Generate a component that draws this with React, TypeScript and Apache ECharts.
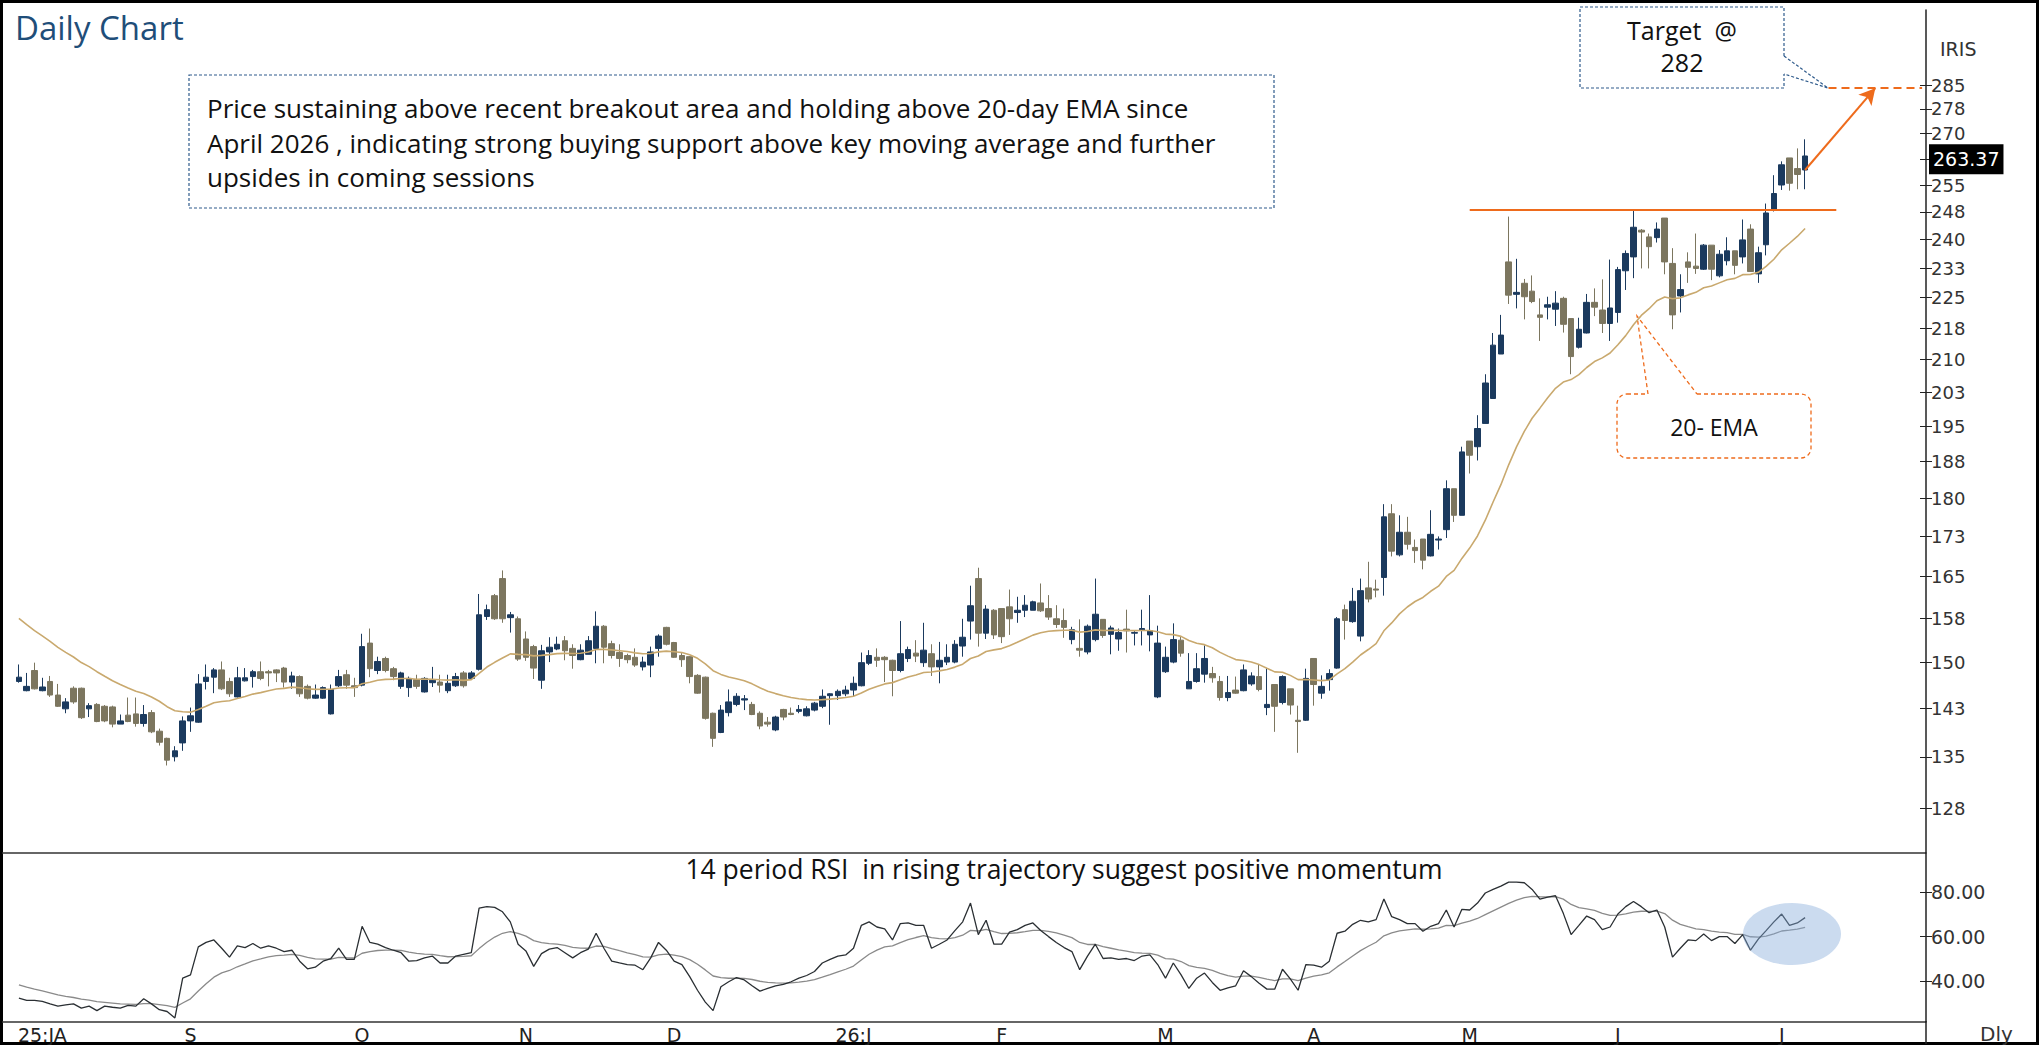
import React, { useEffect, useRef } from "react";
import * as echarts from "echarts";

// ---------- DATA ----------
const monthLabels = ["25:JA", "S", "O", "N", "D", "26:J", "F", "M", "A", "M", "J", "J"];
const monthLabelIdx = [3, 22, 44, 65, 84, 107, 126, 147, 166, 186, 205, 226];
const totalSlots = 245;

const priceTicks = [127.5, 135, 142.5, 150, 157.5, 165, 172.5, 180, 187.5, 195, 202.5, 210, 217.5, 225, 232.5, 240, 247.5, 255, 262.5, 270, 277.5, 285];
const priceLabelTicks = priceTicks.filter((t) => t !== 262.5);
const rsiTicks = [40, 60, 80];

// candles: [open, high, low, close]
const ohlcJulAug = [
  [146.8, 149.6, 146.6, 147.5], [145.3, 148.2, 145.2, 146.0], [148.6, 149.9, 145.5, 145.6], [145.3, 147.4, 145.2, 145.9],
  [146.8, 147.7, 144.3, 144.6], [144.6, 146.4, 142.7, 142.8], [142.4, 144.1, 141.7, 143.5], [145.7, 146.0, 143.2, 143.5],
  [145.7, 145.8, 140.8, 141.0], [142.4, 143.3, 141.1, 142.9], [143.1, 143.3, 140.3, 140.4], [142.8, 143.0, 140.3, 140.5],
  [142.7, 142.9, 139.5, 140.0], [140.0, 141.5, 140.0, 140.5], [141.4, 144.2, 140.3, 140.4], [141.6, 144.2, 139.6, 140.1],
  [140.1, 143.0, 139.6, 141.5], [141.8, 142.2, 138.6, 138.8], [138.9, 139.3, 136.7, 137.2], [137.8, 137.9, 133.7, 134.5],
  [135.0, 136.6, 134.3, 135.9], [137.1, 141.2, 135.9, 140.5], [140.5, 142.6, 138.8, 141.3],
];
const ohlcSep = [
  [140.3, 148.0, 140.2, 146.4], [146.8, 149.6, 145.5, 147.5], [147.5, 149.0, 144.9, 148.7], [148.7, 150.1, 145.4, 145.6],
  [146.8, 147.4, 144.3, 144.8], [144.3, 149.2, 144.2, 147.4], [146.9, 149.0, 146.8, 147.4], [147.6, 148.7, 145.8, 148.4],
  [148.4, 150.1, 147.0, 147.3], [148.4, 148.7, 146.0, 148.2], [148.7, 148.8, 146.7, 148.2], [149.0, 149.2, 145.8, 146.7],
  [146.7, 148.4, 145.6, 147.7], [147.6, 147.8, 144.3, 144.8], [146.0, 146.3, 143.9, 144.1], [144.1, 146.3, 144.0, 144.6],
  [144.1, 146.0, 144.0, 145.8], [141.6, 146.3, 141.5, 145.5], [146.1, 148.7, 145.9, 147.6], [147.9, 148.7, 145.6, 146.2],
  [146.1, 147.4, 144.3, 145.8],
];
const ohlcOct = [
  [146.2, 154.8, 146.0, 152.6], [153.2, 155.7, 147.5, 148.9], [148.6, 150.9, 148.0, 150.1], [150.6, 150.9, 148.3, 148.6],
  [148.9, 149.2, 147.0, 147.6], [146.0, 148.4, 145.6, 148.2], [145.8, 147.6, 144.3, 147.3], [147.1, 147.9, 145.6, 146.0],
  [145.1, 147.5, 145.0, 147.3], [146.6, 149.2, 145.9, 147.0], [146.7, 147.9, 145.0, 146.2], [145.3, 147.9, 144.9, 146.5],
  [146.1, 148.2, 145.9, 147.6], [148.2, 148.5, 145.8, 146.1], [147.3, 148.5, 147.1, 148.2], [148.8, 161.8, 148.6, 158.1],
  [157.8, 159.9, 157.2, 159.0], [161.5, 161.8, 157.2, 157.4], [164.6, 166.1, 156.7, 157.4], [157.6, 158.6, 155.0, 158.1],
  [157.4, 157.8, 150.2, 150.5],
];
const ohlcNov = [
  [153.9, 155.2, 150.2, 150.8], [152.6, 152.9, 147.2, 149.0], [147.0, 152.9, 145.6, 151.9], [151.7, 154.2, 150.0, 152.5],
  [152.2, 154.3, 152.0, 153.0], [153.6, 154.4, 150.3, 151.9], [152.3, 153.0, 148.9, 151.1], [150.4, 153.0, 150.3, 152.0],
  [151.3, 154.4, 151.3, 153.6], [152.3, 158.7, 149.8, 156.1], [156.1, 156.3, 149.8, 152.5], [153.1, 153.6, 150.6, 151.1],
  [151.6, 153.0, 149.2, 150.6], [151.1, 151.4, 149.8, 150.4], [150.8, 152.3, 149.2, 149.5], [149.2, 150.9, 148.6, 150.0],
  [149.5, 152.6, 147.5, 151.7], [152.3, 154.7, 150.9, 154.4], [155.9, 156.0, 152.8, 153.0], [153.3, 153.4, 150.7, 150.8],
];
const ohlcDec = [
  [151.1, 151.5, 149.2, 150.4], [150.9, 151.0, 146.5, 147.6], [147.8, 148.0, 144.8, 144.9], [147.5, 147.6, 140.7, 140.9],
  [141.7, 141.8, 136.5, 137.8], [138.7, 143.0, 138.6, 142.2], [141.8, 145.5, 141.2, 143.5], [143.1, 144.9, 142.8, 144.4],
  [143.8, 144.6, 142.2, 144.0], [143.1, 143.5, 141.4, 141.5], [141.7, 142.0, 139.2, 139.7], [140.3, 141.1, 139.6, 140.0],
  [139.1, 141.3, 138.9, 141.1], [142.3, 142.4, 140.6, 141.1], [141.7, 142.6, 141.4, 141.5], [142.0, 143.0, 141.7, 142.3],
  [141.3, 142.8, 141.2, 142.4], [142.2, 143.5, 142.0, 143.3], [142.8, 145.5, 142.5, 144.4], [144.5, 144.9, 139.9, 144.8],
  [144.5, 145.5, 143.8, 145.2],
];
const ohlcJan = [
  [144.8, 146.1, 144.4, 145.4], [145.4, 147.6, 144.4, 146.5], [146.1, 151.6, 146.0, 149.9], [149.8, 152.0, 149.5, 151.1],
  [150.8, 152.3, 149.2, 150.3], [150.8, 151.0, 146.7, 150.4], [150.3, 150.4, 144.4, 148.6], [148.6, 157.0, 148.3, 151.4],
  [150.6, 152.6, 150.0, 152.1], [151.5, 153.7, 150.0, 151.0], [149.9, 156.7, 149.2, 152.0], [151.4, 153.0, 147.7, 149.2],
  [149.2, 153.4, 146.5, 150.3], [150.0, 153.0, 149.5, 150.8], [150.0, 153.7, 149.8, 153.0], [152.7, 157.4, 150.9, 154.2],
  [157.0, 163.3, 153.8, 159.7], [164.6, 166.6, 152.6, 154.9], [154.9, 159.8, 153.9, 159.1], [158.9, 159.1, 153.9, 154.6],
];
const ohlcFeb = [
  [159.2, 159.2, 153.2, 154.3], [159.5, 162.6, 154.6, 157.4], [158.5, 161.3, 156.7, 158.9], [158.9, 161.6, 157.7, 159.8],
  [158.9, 160.6, 158.9, 160.4], [160.2, 163.7, 158.6, 158.8], [159.2, 161.6, 157.2, 157.7], [157.4, 159.8, 155.8, 156.4],
  [157.1, 159.2, 154.1, 155.9], [153.8, 156.0, 153.0, 155.5], [152.3, 157.3, 150.9, 152.0], [151.7, 156.4, 151.3, 156.1],
  [153.8, 164.6, 153.5, 158.2], [157.3, 157.3, 154.1, 154.5], [154.7, 156.2, 151.3, 155.8], [153.9, 155.7, 151.9, 155.0],
  [155.6, 159.0, 151.6, 155.3], [154.9, 155.3, 152.8, 155.0], [155.4, 159.0, 152.8, 155.7], [154.6, 161.6, 151.8, 155.3],
  [144.3, 156.2, 144.1, 153.2],
];
const ohlcMar = [
  [148.4, 152.6, 148.2, 150.8], [150.0, 156.6, 149.8, 153.8], [153.7, 154.4, 150.9, 151.5], [145.6, 151.5, 145.6, 146.8],
  [146.8, 151.5, 146.6, 148.9], [148.0, 152.8, 146.6, 150.6], [148.1, 149.2, 146.6, 147.4], [146.8, 147.7, 143.7, 144.2],
  [144.2, 147.7, 143.6, 145.0], [145.4, 147.6, 144.8, 144.9], [145.3, 149.6, 145.2, 148.7], [146.4, 148.3, 146.1, 147.7],
  [147.6, 149.6, 145.2, 145.5], [142.6, 149.0, 141.4, 143.1], [146.3, 146.3, 138.8, 142.8], [143.4, 147.8, 143.1, 147.6],
  [145.6, 145.6, 141.5, 143.0], [140.6, 142.9, 135.6, 140.4], [140.6, 148.9, 140.5, 147.3], [150.6, 150.6, 142.9, 146.3],
  [144.9, 147.8, 144.0, 146.0],
];
const ohlcApr = [
  [147.1, 148.8, 145.3, 148.1], [149.0, 157.7, 148.9, 157.4], [159.0, 159.9, 153.8, 157.1], [156.9, 162.9, 156.7, 160.5],
  [154.4, 164.6, 153.5, 162.4], [162.9, 167.7, 160.3, 160.9], [162.7, 164.4, 161.2, 162.5], [164.8, 178.8, 161.5, 176.3],
  [176.9, 178.8, 168.7, 169.7], [169.0, 176.6, 168.7, 173.3], [173.3, 176.3, 170.0, 171.0], [170.4, 171.9, 167.5, 169.8],
  [172.0, 172.0, 166.3, 168.0], [168.8, 177.6, 168.7, 172.9], [171.8, 172.5, 170.0, 172.0], [173.8, 183.6, 172.2, 181.9],
  [181.9, 181.9, 175.3, 176.6], [176.6, 190.6, 176.6, 189.5], [191.8, 191.8, 185.0, 188.8], [190.6, 197.4, 187.7, 194.5],
];
const ohlcMay = [
  [195.6, 206.6, 195.6, 204.6], [201.1, 216.3, 201.1, 213.4], [211.3, 220.7, 211.3, 215.8], [234.1, 246.2, 223.4, 225.6],
  [225.8, 234.9, 222.3, 226.3], [228.6, 229.7, 219.6, 225.2], [226.6, 230.6, 223.6, 224.0], [220.7, 224.8, 214.4, 220.1],
  [222.6, 225.2, 219.6, 223.2], [222.1, 226.6, 218.0, 223.6], [224.8, 225.2, 216.4, 218.4], [219.8, 219.8, 206.6, 210.7],
  [212.9, 220.0, 212.6, 217.2], [216.3, 225.9, 216.2, 223.8], [223.8, 227.3, 220.4, 222.6], [221.9, 229.6, 216.3, 218.6],
  [218.6, 234.7, 214.4, 222.4], [221.3, 232.8, 218.8, 232.1], [231.8, 237.1, 226.9, 236.3], [235.4, 248.0, 229.9, 243.3],
  [242.5, 242.8, 232.4, 242.0],
];
const ohlcJunJul = [
  [240.7, 241.6, 232.4, 238.1], [240.5, 244.6, 239.2, 242.8], [245.8, 245.8, 230.9, 234.1], [233.7, 237.7, 217.2, 220.7],
  [225.4, 230.9, 221.3, 227.0], [234.1, 236.6, 228.7, 232.7], [233.0, 241.6, 231.0, 232.4], [232.2, 238.8, 232.0, 238.5],
  [238.5, 238.5, 229.4, 232.2], [230.5, 237.2, 230.1, 236.1], [234.4, 240.6, 233.2, 237.0], [237.0, 237.0, 230.9, 233.2],
  [235.4, 245.4, 233.7, 239.9], [242.8, 244.1, 231.6, 231.6], [231.0, 238.1, 228.7, 236.5], [238.6, 249.8, 235.8, 247.2],
  [247.9, 257.8, 247.6, 252.6], [255.0, 261.8, 253.6, 260.8], [262.8, 262.8, 253.4, 255.5], [259.7, 265.6, 253.8, 258.0],
  [259.3, 268.3, 253.8, 263.37],
];

// 14-period RSI, one value per candle
const rsiH2025 = [
  32.5, 31.5, 31.5, 31.0, 29.9, 28.9, 29.5, 29.9, 28.0, 28.9,
  26.9, 28.9, 28.4, 28.0, 29.2, 28.9, 32.2, 29.9, 27.3, 26.5,
  23.6, 41.4, 42.9, 55.4, 57.4, 58.5, 54.8, 50.8, 55.9, 55.1,
  56.9, 54.8, 55.9, 54.8, 53.3, 53.9, 49.0, 45.6, 46.3, 49.0,
  50.2, 54.8, 49.8, 49.8, 64.6, 57.4, 56.6, 55.1, 53.9, 52.8,
  49.0, 49.3, 50.5, 51.3, 48.2, 48.2, 51.3, 52.1, 52.8, 72.7,
  73.4, 73.1, 71.1, 66.6, 56.6, 53.6, 46.7, 52.4, 54.4, 55.1,
  52.8, 50.5, 52.8, 54.4, 61.5, 54.8, 49.0, 48.2, 47.5, 47.2,
  45.2, 50.5, 57.4, 53.9, 49.0, 47.5, 42.1, 36.0, 30.7, 26.9,
  37.6, 39.8, 41.7, 40.6, 38.0, 35.6, 36.8, 38.0, 38.6, 39.8,
  41.4, 42.6, 44.4, 48.2, 49.8, 51.3,
];
const rsiH2026 = [
  51.8, 54.8, 65.0, 66.6,
  64.3, 63.5, 58.5, 65.8, 66.1, 65.0, 65.0, 54.8, 56.6, 58.5,
  62.7, 66.6, 75.0, 60.9, 67.3, 56.6, 56.6, 62.0, 63.1, 65.0,
  66.1, 62.7, 60.0, 57.4, 55.1, 53.3, 45.2, 51.3, 56.6, 50.2,
  50.5, 49.8, 50.2, 49.3, 51.3, 51.8, 47.5, 41.4, 48.2, 42.9,
  36.8, 41.4, 43.7, 39.5, 36.0, 37.1, 38.0, 44.7, 42.1, 39.1,
  36.5, 36.5, 45.4, 41.1, 36.0, 47.5, 47.2, 46.3, 49.0, 61.5,
  62.4, 65.5, 67.3, 66.6, 67.6, 76.8, 68.9, 67.6, 65.8, 65.8,
  62.4, 64.6, 65.8, 71.9, 64.3, 72.2, 71.9, 75.0, 79.5, 81.1,
  82.6, 84.4, 84.4, 84.1, 81.1, 76.8, 77.7, 78.3, 70.4, 60.9,
  65.0, 69.2, 67.6, 63.1, 64.3, 70.1, 73.4, 75.7, 73.4, 70.7,
  71.9, 64.3, 50.8, 54.8, 58.5, 58.2, 61.2, 58.2, 60.0, 60.0,
  56.9, 60.9, 53.9, 58.9, 62.7, 66.6, 70.1, 65.0, 66.1, 68.5,
];

const emaPeriod = 20;
const emaPrior = 158.5; // 20-EMA level before the first visible bar
const rsiSignalAlpha = 0.15;
const rsiSignalPrior = 39.5;
const lastPrice = 263.37;
const resistanceLevel = 248;
const resistanceFrom = 186;
const resistanceTo = 233;
const targetLevel = 284;
const targetFrom = 232;
const targetTo = 244;
const arrowFrom = [229, 259.3];
const arrowTo = [238, 284];

// price axis / rsi axis ranges
const priceMin = 121.3;
const priceMax = 309.8;
const rsiMin = 21.8;
const rsiMax = 97.4;

// ---------- BUILD ----------
const ohlc = [
  ...ohlcJulAug, ...ohlcSep, ...ohlcOct, ...ohlcNov, ...ohlcDec, ...ohlcJan,
  ...ohlcFeb, ...ohlcMar, ...ohlcApr, ...ohlcMay, ...ohlcJunJul,
];
const rsi = [...rsiH2025, ...rsiH2026];
const L = Math.log;

const UP = "#1b3a5e";
const DOWN = "#7c765f";

export default function App() {
  const ref = useRef<HTMLDivElement | null>(null);

  useEffect(() => {
    if (!ref.current) return;
    const chart = echarts.init(ref.current, null, { renderer: "svg" });

    const candleData = ohlc.map(([o, h, l, c]) => [L(o), L(c), L(l), L(h)]);
    const closes = ohlc.map((r) => r[3]);
    const a = 2 / (emaPeriod + 1);
    let prev = emaPrior;
    const ema = closes.map((c) => {
      prev = prev + a * (c - prev);
      return L(prev);
    });
    let sPrev = rsiSignalPrior;
    const rsiSignal = rsi.map((v) => {
      sPrev = sPrev + rsiSignalAlpha * (v - sPrev);
      return sPrev;
    });

    const cats = Array.from({ length: totalSlots }, (_, i) => String(i));
    const labelMap: Record<number, string> = {};
    monthLabelIdx.forEach((idx, k) => (labelMap[idx] = monthLabels[k]));

    const axisFont = '"DejaVu Sans", Verdana, sans-serif';
    const annFont = '"Open Sans", "Noto Sans", sans-serif';

    const option: any = {
      animation: false,
      backgroundColor: "#ffffff",
      grid: [
        { left: 15, right: 113, top: 10, height: 843 },
        { left: 15, right: 113, top: 853, height: 169 },
      ],
      xAxis: [
        {
          type: "category", gridIndex: 0, data: cats, boundaryGap: true,
          axisLine: { show: false }, axisTick: { show: false }, axisLabel: { show: false }, splitLine: { show: false },
        },
        {
          type: "category", gridIndex: 1, data: cats, boundaryGap: true,
          axisLine: { show: false }, axisTick: { show: false }, splitLine: { show: false },
          axisLabel: {
            interval: 0, margin: 3,
            formatter: (_v: string, idx: number) => labelMap[idx] || "",
            fontFamily: axisFont, fontSize: 19, color: "#222",
          },
        },
      ],
      yAxis: [
        {
          type: "value", gridIndex: 0, position: "right", min: L(priceMin), max: L(priceMax),
          splitLine: { show: false },
          axisLine: { show: true, lineStyle: { color: "#222", width: 1.5 } },
          axisTick: { show: true, length: 6, customValues: priceTicks.map(L), lineStyle: { color: "#222" } },
          axisLabel: {
            customValues: priceLabelTicks.map(L), margin: 5,
            formatter: (v: number) => String(Math.round(Math.round(Math.exp(v) * 100) / 100)),
            fontFamily: axisFont, fontSize: 18, color: "#333",
          },
        },
        {
          type: "value", gridIndex: 0, position: "right", min: L(priceMin), max: L(priceMax),
          splitLine: { show: false }, axisLine: { show: false }, axisLabel: { show: false },
          axisTick: { show: true, inside: true, length: 6, customValues: priceTicks.map(L), lineStyle: { color: "#222" } },
        },
        {
          type: "value", gridIndex: 1, position: "right", min: rsiMin, max: rsiMax,
          splitLine: { show: false },
          axisLine: { show: true, lineStyle: { color: "#222", width: 1.5 } },
          axisTick: { show: true, length: 6, customValues: rsiTicks, lineStyle: { color: "#222" } },
          axisLabel: {
            customValues: rsiTicks, margin: 5, formatter: (v: number) => v.toFixed(2),
            fontFamily: axisFont, fontSize: 19, color: "#333",
          },
        },
        {
          type: "value", gridIndex: 1, position: "right", min: rsiMin, max: rsiMax,
          splitLine: { show: false }, axisLine: { show: false }, axisLabel: { show: false },
          axisTick: { show: true, inside: true, length: 6, customValues: rsiTicks, lineStyle: { color: "#222" } },
        },
      ],
      series: [
        {
          type: "candlestick", xAxisIndex: 0, yAxisIndex: 0, data: candleData, barWidth: 6,
          itemStyle: { color: UP, color0: DOWN, borderColor: UP, borderColor0: DOWN, borderWidth: 1 },
          markLine: {
            silent: true, animation: false, symbol: ["none", "none"], label: { show: false },
            data: [
              [
                { coord: [resistanceFrom, L(resistanceLevel)], lineStyle: { color: "#ee6b1c", width: 2, type: "solid" } },
                { coord: [resistanceTo, L(resistanceLevel)] },
              ],
              [
                { coord: [targetFrom, L(targetLevel)], lineStyle: { color: "#ee6b1c", width: 1.8, type: [8, 5] } },
                { coord: [targetTo, L(targetLevel)] },
              ],
              [
                { coord: [arrowFrom[0], L(arrowFrom[1])], symbol: "none", lineStyle: { color: "#ee6b1c", width: 2, type: "solid" } },
                { coord: [arrowTo[0], L(arrowTo[1])], symbol: "arrow", symbolSize: [13, 16] },
              ],
              {
                yAxis: L(lastPrice),
                lineStyle: { color: "rgba(0,0,0,0)", width: 1 },
                label: {
                  show: true, position: "end", distance: 3, formatter: lastPrice.toFixed(2),
                  backgroundColor: "#000", color: "#fff", padding: [6, 4, 5, 4],
                  fontFamily: axisFont, fontSize: 19,
                },
              },
            ],
          },
        },
        {
          type: "line", xAxisIndex: 0, yAxisIndex: 0, data: ema, symbol: "none", silent: true,
          lineStyle: { color: "#c9a96e", width: 1.6 },
        },
        {
          type: "line", xAxisIndex: 1, yAxisIndex: 2, data: rsiSignal, symbol: "none", silent: true,
          lineStyle: { color: "#8a8a8a", width: 1.3 },
        },
        {
          type: "line", xAxisIndex: 1, yAxisIndex: 2, data: rsi, symbol: "none", silent: true,
          lineStyle: { color: "#2a2f33", width: 1.3 },
        },
      ],
      graphic: [
        { type: "rect", silent: true, shape: { x: 1.5, y: 1.5, width: 2036, height: 1042 }, style: { fill: "none", stroke: "#000", lineWidth: 3 } },
        { type: "line", silent: true, shape: { x1: 2, y1: 853, x2: 1926, y2: 853 }, style: { stroke: "#333", lineWidth: 1.5 } },
        { type: "line", silent: true, shape: { x1: 2, y1: 1022, x2: 1926, y2: 1022 }, style: { stroke: "#333", lineWidth: 1.5 } },
        { type: "line", silent: true, shape: { x1: 1926, y1: 1021, x2: 1926, y2: 1044 }, style: { stroke: "#222", lineWidth: 1.5 } },
        { type: "text", silent: true, style: { text: "Daily Chart", x: 15, y: 27, textVerticalAlign: "middle", fill: "#1f4e79", font: `400 33px ${annFont}` } },
        { type: "text", silent: true, style: { text: "IRIS", x: 1940, y: 49, textVerticalAlign: "middle", fill: "#333", font: `400 19px ${axisFont}` } },
        { type: "text", silent: true, style: { text: "Dly", x: 1980, y: 1034, textVerticalAlign: "middle", fill: "#333", font: `400 20px ${axisFont}` } },
        // main annotation box
        { type: "rect", silent: true, shape: { x: 189, y: 75, width: 1085, height: 133 }, style: { fill: "#fff", stroke: "#2f5b8c", lineWidth: 1.2, lineDash: [3, 2] } },
        { type: "text", silent: true, style: { text: "Price sustaining above recent breakout area and holding above 20-day EMA since", x: 207, y: 108, textVerticalAlign: "middle", fill: "#111", font: `500 26px ${annFont}` } },
        { type: "text", silent: true, style: { text: "April 2026 , indicating strong buying support above key moving average and further", x: 207, y: 143, textVerticalAlign: "middle", fill: "#111", font: `500 26px ${annFont}` } },
        { type: "text", silent: true, style: { text: "upsides in coming sessions", x: 207, y: 177, textVerticalAlign: "middle", fill: "#111", font: `500 26px ${annFont}` } },
        // target callout
        { type: "rect", silent: true, shape: { x: 1580, y: 7, width: 204, height: 81 }, style: { fill: "#fff", stroke: "#2f5b8c", lineWidth: 1.2, lineDash: [3, 2] } },
        { type: "line", silent: true, shape: { x1: 1784, y1: 56, x2: 1784, y2: 74 }, style: { stroke: "#fff", lineWidth: 3 } },
        { type: "polyline", silent: true, shape: { points: [[1784, 56], [1828, 88], [1784, 74]] }, style: { fill: "none", stroke: "#2f5b8c", lineWidth: 1.2, lineDash: [3, 2] } },
        { type: "text", silent: true, style: { text: "Target  @", x: 1682, y: 30, textAlign: "center", textVerticalAlign: "middle", fill: "#111", font: `500 25px ${annFont}` } },
        { type: "text", silent: true, style: { text: "282", x: 1682, y: 62, textAlign: "center", textVerticalAlign: "middle", fill: "#111", font: `500 25px ${annFont}` } },
        // 20-EMA callout
        { type: "rect", silent: true, shape: { x: 1617, y: 394, width: 194, height: 64, r: 10 }, style: { fill: "#fff", stroke: "#ee6b1c", lineWidth: 1.3, lineDash: [4, 3] } },
        { type: "line", silent: true, shape: { x1: 1648, y1: 394, x2: 1697, y2: 394 }, style: { stroke: "#fff", lineWidth: 3 } },
        { type: "polyline", silent: true, shape: { points: [[1648, 394], [1637, 316], [1697, 394]] }, style: { fill: "none", stroke: "#ee6b1c", lineWidth: 1.3, lineDash: [4, 3] } },
        { type: "text", silent: true, style: { text: "20- EMA", x: 1714, y: 427, textAlign: "center", textVerticalAlign: "middle", fill: "#111", font: `500 23px ${annFont}` } },
        // RSI caption
        { type: "text", silent: true, style: { text: "14 period RSI  in rising trajectory suggest positive momentum", x: 1064, y: 869, textAlign: "center", textVerticalAlign: "middle", fill: "#111", font: `500 26.5px ${annFont}` } },
        // highlight ellipse
        { type: "ellipse", silent: true, z: 100, shape: { cx: 1792, cy: 934, rx: 49, ry: 31 }, style: { fill: "rgba(130,170,218,0.42)" } },
      ],
    };

    chart.setOption(option);
    return () => chart.dispose();
  }, []);

  return (
    <div
      ref={ref}
      style={{ position: "absolute", left: 0, top: 0, width: 2039, height: 1045, background: "#fff" }}
    />
  );
}
